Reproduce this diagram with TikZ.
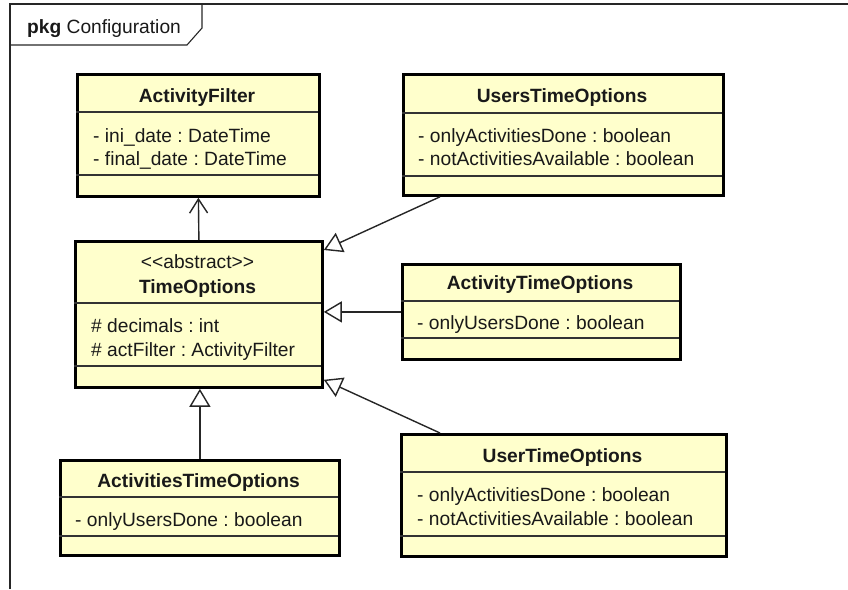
\documentclass[tikz,border=0pt]{standalone}
\usepackage{fontspec}
\setmainfont{Liberation Sans}
\usetikzlibrary{arrows.meta,calc}
\definecolor{clsfill}{RGB}{255,255,204}
\definecolor{txtc}{RGB}{25,25,25}
\frenchspacing
\begin{document}
\begin{tikzpicture}[x=1pt,y=-1pt,
  cls/.style={draw=black, line width=2.8pt, fill=clsfill, anchor=north west, inner sep=0pt},
  sepline/.style={draw=black!80, line width=1.2pt},
  frameline/.style={draw=black!85, line width=1.1pt},
  txt/.style={inner sep=0pt, text=txtc, font=\frenchspacing\fontsize{19.2}{23}\selectfont},
  ttl/.style={txt, anchor=base, font=\frenchspacing\bfseries\fontsize{19.2}{23}\selectfont},
  attr/.style={txt, anchor=base west},
  gen/.style={draw=black!85, line width=1.4pt, -{Triangle[open, fill=white, length=18pt, width=21pt, line width=1.4pt]}},
  assoc/.style={draw=black!85, line width=1.4pt, -{Straight Barb[length=14pt, width=18pt, line width=1.4pt]}}]
\useasboundingbox (0,0) rectangle (848,589);

% package frame
\draw[frameline] (10,589) -- (10,4) -- (848,4);
\draw[frameline] (10,45) -- (187,45) -- (202,28) -- (202,4);
\node[txt, anchor=base west] (pkglbl) at (27,33) {\textbf{pkg} Configuration};

% ActivityFilter
\node[cls, minimum width=242pt, minimum height=122pt] (af) at (76,73) {};
\draw[sepline] (76,112) -- (318,112);
\draw[sepline] (76,175) -- (318,175);
\node[ttl] (afT) at (197,102) {ActivityFilter};
\node[attr] (afA1) at (93,142) {- ini\_date : DateTime};
\node[attr] (afA2) at (93,165) {- final\_date : DateTime};

% UsersTimeOptions
\node[cls, minimum width=320pt, minimum height=121pt] (usto) at (402,73) {};
\draw[sepline] (402,113) -- (722,113);
\draw[sepline] (402,176) -- (722,176);
\node[ttl] (ustoT) at (562,102) {UsersTimeOptions};
\node[attr] (ustoA1) at (418,142) {- onlyActivitiesDone : boolean};
\node[attr] (ustoA2) at (418,165) {- notActivitiesAvailable : boolean};

% TimeOptions
\node[cls, minimum width=247pt, minimum height=146pt] (to) at (74,240) {};
\draw[sepline] (74,303) -- (321,303);
\draw[sepline] (74,366) -- (321,366);
\node[txt, anchor=base] (toS) at (197.5,268) {<{}<abstract>{}>};
\node[ttl] (toT) at (197.5,293) {TimeOptions};
\node[attr] (toA1) at (91,332) {\# decimals : int};
\node[attr] (toA2) at (91,356) {\# actFilter : ActivityFilter};

% ActivityTimeOptions
\node[cls, minimum width=278pt, minimum height=95pt] (ato) at (401,263) {};
\draw[sepline] (401,301) -- (679,301);
\draw[sepline] (401,338) -- (679,338);
\node[ttl] (atoT) at (540,289) {ActivityTimeOptions};
\node[attr] (atoA1) at (417,329) {- onlyUsersDone : boolean};

% ActivitiesTimeOptions
\node[cls, minimum width=279pt, minimum height=95pt] (asto) at (59,459) {};
\draw[sepline] (59,497) -- (338,497);
\draw[sepline] (59,536) -- (338,536);
\node[ttl] (astoT) at (198.5,487) {ActivitiesTimeOptions};
\node[attr] (astoA1) at (75,526) {- onlyUsersDone : boolean};

% UserTimeOptions
\node[cls, minimum width=325pt, minimum height=122pt] (uto) at (400,433) {};
\draw[sepline] (400,472) -- (725,472);
\draw[sepline] (400,536) -- (725,536);
\node[ttl] (utoT) at (562.5,462) {UserTimeOptions};
\node[attr] (utoA1) at (417,501) {- onlyActivitiesDone : boolean};
\node[attr] (utoA2) at (417,525) {- notActivitiesAvailable : boolean};

% connectors
\coordinate (ustoFoot) at ($(usto.south west)+(38,0)$);
\coordinate (toTopR) at ($(to.north east)+(0,10)$);
\coordinate (utoHead) at ($(uto.north west)+(40,0)$);
\coordinate (toBotR) at ($(to.south east)+(0,-9)$);
\draw[assoc] (to.north) -- (af.south);
\draw[gen] (ustoFoot) -- (toTopR);
\draw[gen] (ato.west) -- (ato.west -| to.east);
\draw[gen] (utoHead) -- (toBotR);
\draw[gen] (asto.north) -- (asto.north |- to.south);
\end{tikzpicture}
\end{document}
